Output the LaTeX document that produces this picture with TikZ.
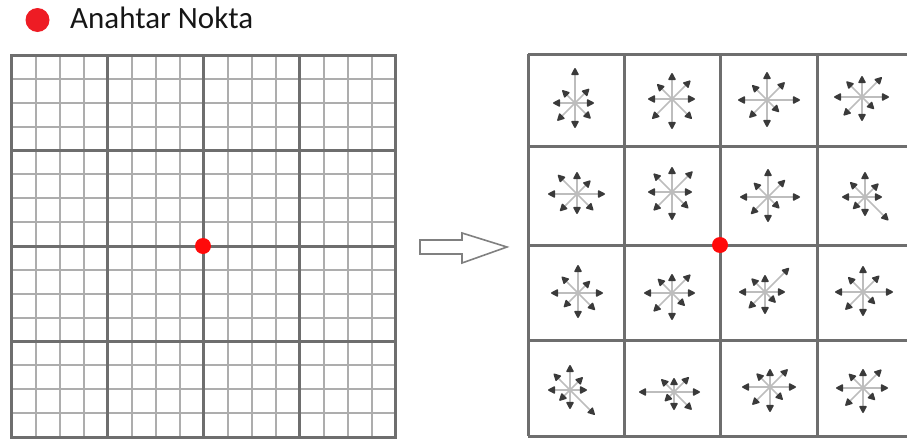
\documentclass[tikz,border=0pt]{standalone}
\usepackage{fontspec}
\newfontfamily\legendfont{Carlito}
\usetikzlibrary{arrows.meta}
\definecolor{majorgray}{HTML}{6E6E6E}
\definecolor{minorgray}{HTML}{ADADAD}
\definecolor{keyred}{HTML}{EE1C24}
\definecolor{dotred}{HTML}{FF0A0A}
\definecolor{headgray}{HTML}{3A3A3A}
\definecolor{shaftgray}{HTML}{BDBDBD}
\definecolor{textdark}{HTML}{161616}
\tikzset{
  majorline/.style={draw=majorgray, line width=3pt},
  minorline/.style={draw=minorgray, line width=2pt},
  shaftline/.style={draw=shaftgray, line width=1.5pt,
    -{Triangle[length=8pt,width=8pt,round,color=headgray,fill=headgray]}},
  keydot/.style={circle, fill=dotred, inner sep=0pt, minimum size=16pt},
  hollowarrow/.style={draw=gray, line width=1.6pt, fill=white, line join=miter},
}
% #1 name, #2 centre, #3 lengths E,NE,N,NW,W,SW,S,SE
\newcommand\descstar[3]{%
  \coordinate (#1) at (#2);
  \foreach \len [count=\i from 0] in {#3} {
    \draw[shaftline] (#1) -- ++(\i*45:\len pt);
  }
}
\begin{document}
\begin{tikzpicture}[x=1pt,y=-1pt]
\useasboundingbox (0,0) rectangle (907,439);
\clip (0,0) rectangle (907,439);

% legend
\node[circle, fill=keyred, inner sep=0pt, minimum size=24pt] (legdot) at (37.5,20) {};
\node[anchor=base west, inner sep=0pt, text=textdark,
      font=\legendfont\fontsize{31}{36}\selectfont] (legtext) at (70,28) {Anahtar Nokta};

% left grid: minor lines
\foreach \k in {1,...,15} {
  \draw[minorline] ({11.5+24*\k},55) -- ({11.5+24*\k},437);
  \draw[minorline] (11.5,{55+23.875*\k}) -- (395.5,{55+23.875*\k});
}
% left grid: major lines
\foreach \k in {1,2,3} {
  \draw[majorline] ({11.5+96*\k},55) -- ({11.5+96*\k},437);
  \draw[majorline] (11.5,{55+95.5*\k}) -- (395.5,{55+95.5*\k});
}
\draw[majorline] (11.5,55) rectangle (395.5,437);
\node[keydot] (leftkey) at (203,246) {};

% hollow arrow
\draw[hollowarrow] (420,240) -- (462,240) -- (462,233) -- (507,247)
  -- (462,263) -- (462,254) -- (420,254) -- cycle;

% right grid
\foreach \xx in {528,624,720,817,913} {
  \draw[majorline] (\xx,54) -- (\xx,436);
}
\foreach \yy in {54,146,245,340,436} {
  \draw[majorline] (528,\yy) -- (913,\yy);
}

% descriptor stars: E, NE, N, NW, W, SW, S, SE
\descstar{s11}{575,103}{19,20,35,18,22,25,25,22}
\descstar{s12}{672,99}{23,26,26,21,24,28,30,28}
\descstar{s13}{767,100}{33,25,28,21,29,25,27,17}
\descstar{s14}{862,97}{27,28,21,22,28,26,24,17}
\descstar{s21}{577,194}{28,19,22,27,29,24,20,23}
\descstar{s22}{672,192}{20,29,25,26,24,26,28,23}
\descstar{s23}{768,197}{32,24,28,20,28,24,25,16}
\descstar{s24}{865,197}{17,19,25,21,23,17,19,33}
\descstar{s31}{578,293}{25,17,28,23,27,20,25,24}
\descstar{s32}{672,293}{23,26,19,20,28,26,27,18}
\descstar{s33}{765,292}{20,34,17,19,26,23,22,15}
\descstar{s34}{863,292}{30,23,26,21,28,25,24,17}
\descstar{s41}{570,390}{17,18,25,23,22,15,19,35}
\descstar{s42}{674,392}{26,21,14,18,35,13,18,25}
\descstar{s43}{770,387}{26,25,18,19,28,25,25,18}
\descstar{s44}{863,388}{25,26,19,20,27,25,25,17}

\node[keydot] (rightkey) at (720,245) {};
\end{tikzpicture}
\end{document}
